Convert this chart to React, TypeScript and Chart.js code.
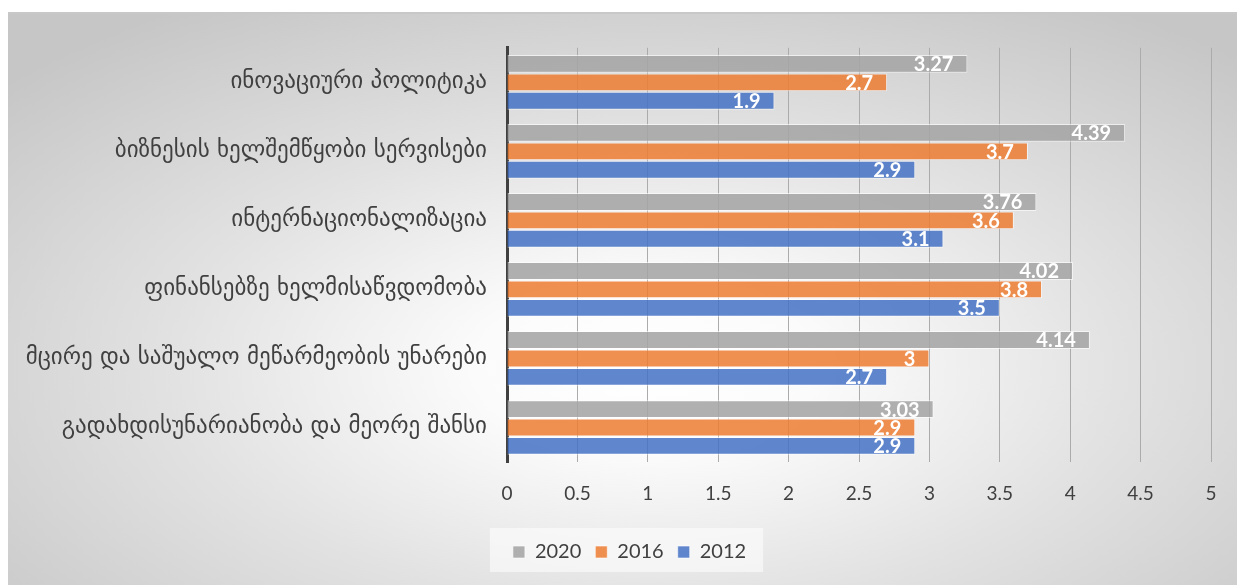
import React, { useRef, useEffect } from 'react';
import { Chart, registerables } from 'chart.js';

Chart.register(...registerables);

const categories = [
    'ინოვაციური პოლიტიკა',
    'ბიზნესის ხელშემწყობი სერვისები',
    'ინტერნაციონალიზაცია',
    'ფინანსებზე ხელმისაწვდომობა',
    'მცირე და საშუალო მეწარმეობის უნარები',
    'გადახდისუნარიანობა და მეორე შანსი',
];

const values2020 = [3.27, 4.39, 3.76, 4.02, 4.14, 3.03];
const values2016 = [2.7, 3.7, 3.6, 3.8, 3, 2.9];
const values2012 = [1.9, 2.9, 3.1, 3.5, 2.7, 2.9];

const xTicks = [0, 0.5, 1, 1.5, 2, 2.5, 3, 3.5, 4, 4.5, 5];

// white value labels drawn inside the end of each bar
const valueLabels = {
    id: 'valueLabels',
    afterDatasetsDraw(chart: any) {
        const ctx = chart.ctx;
        ctx.save();
        ctx.font = 'bold 20px Lato';
        ctx.fillStyle = '#ffffff';
        ctx.textAlign = 'right';
        ctx.textBaseline = 'middle';
        chart.data.datasets.forEach((ds: any, i: number) => {
            const meta = chart.getDatasetMeta(i);
            meta.data.forEach((bar: any, j: number) => {
                ctx.fillText(String(ds.data[j]), bar.x - 14, bar.y + 1);
            });
        });
        ctx.restore();
    },
};

// nudge the legend right a little and draw a light box behind it
const legendBox = {
    id: 'legendBox',
    afterLayout(chart: any) {
        const lg = chart.legend;
        if (!lg) return;
        lg.left += 20;
        lg.right += 20;
    },
    beforeDraw(chart: any) {
        const lg = chart.legend;
        if (!lg || !lg.lineWidths || !lg.lineWidths.length) return;
        const w = lg.lineWidths[0];
        const cx = (lg.left + lg.right) / 2;
        const cy = (lg.top + lg.bottom) / 2;
        const ctx = chart.ctx;
        ctx.save();
        ctx.fillStyle = 'rgba(255,255,255,0.55)';
        ctx.fillRect(cx - w / 2 - 16, cy - 22, w + 26, 44);
        ctx.restore();
    },
};

const App: React.FC = () => {
    const chartRef = useRef<HTMLCanvasElement>(null);
    const chartInstance = useRef<Chart | null>(null);

    useEffect(() => {
        if (!chartRef.current) return;
        const ctx = chartRef.current.getContext('2d');
        if (!ctx) return;
        if (chartInstance.current) chartInstance.current.destroy();

        const border = 'rgba(255,255,255,0.6)';
        chartInstance.current = new Chart(ctx, {
            type: 'bar',
            data: {
                labels: categories,
                datasets: [
                    { label: '2020', data: values2020, backgroundColor: 'rgba(165,165,165,0.88)', borderColor: border, borderWidth: 1 },
                    { label: '2016', data: values2016, backgroundColor: 'rgba(237,125,49,0.85)', borderColor: border, borderWidth: 1 },
                    { label: '2012', data: values2012, backgroundColor: 'rgba(68,114,196,0.85)', borderColor: border, borderWidth: 1 },
                ],
            },
            options: {
                indexAxis: 'y',
                animation: false,
                responsive: true,
                maintainAspectRatio: false,
                layout: { padding: { top: 31, right: 26, left: 0, bottom: 13 } },
                datasets: { bar: { categoryPercentage: 0.8, barPercentage: 0.97 } },
                scales: {
                    x: {
                        min: 0,
                        max: 5,
                        afterBuildTicks: (scale: any) => {
                            scale.ticks = xTicks.map(v => ({ value: v }));
                        },
                        afterFit: (scale: any) => {
                            scale.height = 66;
                        },
                        grid: { color: '#ababab', lineWidth: 1, drawTicks: false },
                        border: { display: false },
                        ticks: {
                            color: '#404040',
                            padding: 20,
                            font: { family: 'Lato', size: 19 },
                            callback: (value: any) => String(value),
                        },
                    },
                    y: {
                        afterFit: (scale: any) => {
                            scale.width = 499;
                        },
                        grid: { display: false, drawTicks: false },
                        border: { display: true, color: '#404040', width: 3 },
                        ticks: {
                            color: '#404040',
                            padding: 20,
                            font: { family: 'DejaVu Sans', size: 23 },
                        },
                    },
                },
                plugins: {
                    legend: {
                        position: 'bottom',
                        labels: {
                            boxWidth: 12,
                            boxHeight: 12,
                            padding: 14,
                            color: '#404040',
                            font: { family: 'Lato', size: 20 },
                        },
                    },
                    tooltip: { enabled: false },
                },
            },
            plugins: [legendBox, valueLabels],
        });

        return () => {
            if (chartInstance.current) {
                chartInstance.current.destroy();
                chartInstance.current = null;
            }
        };
    }, []);

    return (
        <div
            style={{
                position: 'fixed',
                left: 8,
                top: 12,
                width: 1229,
                height: 573,
                borderTop: '2px solid #c8c8c8',
                boxSizing: 'border-box',
                background: 'radial-gradient(ellipse 70% 75% at 52% 62%, #ffffff 0%, #fbfbfb 20%, #e2e2e2 55%, #c6c6c6 100%)',
            }}
        >
            <canvas ref={chartRef}></canvas>
        </div>
    );
};

export default App;
